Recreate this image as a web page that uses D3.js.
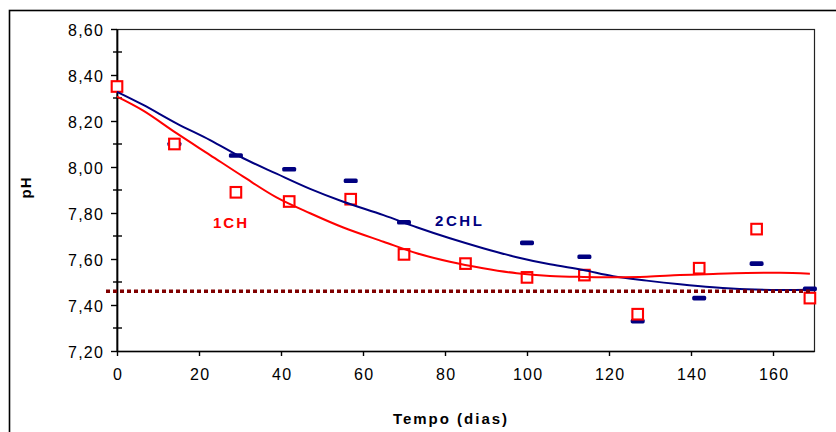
<!DOCTYPE html>
<html>
<head>
<meta charset="utf-8">
<script src="https://cdn.jsdelivr.net/npm/d3@7"></script>
<style>
  body { margin:0; background:#fff; }
  text { font-family: "Liberation Sans", Arial, sans-serif; }
</style>
</head>
<body>
<div id="chart-area"></div>
<script>
// measured points
const days1CH = [0, 14, 29, 42, 57, 70, 85, 100, 114, 127, 142, 156, 169];
const ph1CH   = [8.35, 8.10, 7.89, 7.85, 7.86, 7.62, 7.58, 7.52, 7.53, 7.36, 7.56, 7.73, 7.43];

const days2CHL = [14, 29, 42, 57, 70, 100, 114, 127, 142, 156, 169];
const ph2CHL   = [8.10, 8.05, 7.99, 7.94, 7.76, 7.67, 7.61, 7.33, 7.43, 7.58, 7.47];

// trend lines
const trendDays  = [0, 6.4, 14.5, 22.7, 30.8, 38.9, 47.1, 55.2, 65, 73.1, 81.2, 89.3, 97.5, 105.6, 113.7, 121, 129.2, 137.3, 145.4, 153.6, 161.7, 169];
const trend1CH   = [8.306, 8.245, 8.147, 8.052, 7.958, 7.868, 7.799, 7.737, 7.675, 7.625, 7.588, 7.560, 7.538, 7.526, 7.522, 7.521, 7.523, 7.530, 7.535, 7.539, 7.540, 7.536];
const trend2CHL  = [8.327, 8.270, 8.190, 8.117, 8.038, 7.971, 7.905, 7.849, 7.791, 7.738, 7.690, 7.647, 7.608, 7.577, 7.552, 7.525, 7.506, 7.490, 7.477, 7.468, 7.465, 7.466];

const limitPH = 7.46;

const yTicks = [7.2, 7.4, 7.6, 7.8, 8.0, 8.2, 8.4, 8.6];
const yMinorTicks = [7.3, 7.5, 7.7, 7.9, 8.1, 8.3, 8.5];
const xTicks = [0, 20, 40, 60, 80, 100, 120, 140, 160];

const W = 836, H = 432;
const plot = {left:117, right:814, top:29, bottom:351};

const red = "#ff0000", navy = "#000080";

var svg = d3.select("#chart-area").append("svg")
    .attr("width", W)
    .attr("height", H);

var xScale = d3.scaleLinear().domain([0, 170]).range([plot.left, plot.right]);
var yScale = d3.scaleLinear().domain([7.2, 8.6]).range([plot.bottom, plot.top]);

var fmt = d => d3.format(".2f")(d).replace(".", ",");

// outer chart border (runs off the bottom/right of the picture)
svg.append("rect")
   .attr("x", 9.5).attr("y", 10.5)
   .attr("width", 900).attr("height", 500)
   .attr("fill", "none").attr("stroke", "#000").attr("stroke-width", 1.6);

// plot area frame
svg.append("rect")
   .attr("x", plot.left).attr("y", plot.top + 0.5)
   .attr("width", plot.right - plot.left + 0.5).attr("height", plot.bottom - plot.top)
   .attr("fill", "none").attr("stroke", "#222").attr("stroke-width", 1.2);

// y axis
var yAxis = svg.append("g")
   .attr("transform", `translate(${plot.left},0)`)
   .call(d3.axisLeft(yScale).tickValues(yTicks).tickFormat(fmt).tickSize(6).tickSizeOuter(0).tickPadding(7));

yAxis.select(".domain").attr("stroke-width", 1.7);
yAxis.selectAll(".tick line").attr("stroke-width", 1.4);
yAxis.selectAll(".tick text")
     .attr("font-size", 16).attr("letter-spacing", 1.2)
     .attr("fill", "#000")
     .attr("dy", "0.43em");

yAxis.selectAll(".minor")
     .data(yMinorTicks)
     .enter()
     .append("line")
     .attr("class", "minor")
     .attr("x1", -4).attr("x2", 5)
     .attr("y1", d => yScale(d)).attr("y2", d => yScale(d))
     .attr("stroke", "#000").attr("stroke-width", 1.4);

// x axis
var xAxis = svg.append("g")
   .attr("transform", `translate(0,${plot.bottom})`)
   .call(d3.axisBottom(xScale).tickValues(xTicks).tickSize(5).tickSizeOuter(0).tickPadding(13));

xAxis.select(".domain").attr("stroke-width", 1.7);
xAxis.selectAll(".tick line").attr("stroke-width", 1.4);
xAxis.selectAll(".tick text")
     .attr("font-size", 16).attr("letter-spacing", 1.2)
     .attr("fill", "#000")
     .attr("dx", "0.04em");

// 2CHL markers (dashes)
svg.selectAll("rect.m2chl")
   .data(d3.zip(days2CHL, ph2CHL))
   .enter()
   .append("rect")
   .attr("class", "m2chl")
   .attr("x", d => xScale(d[0]) - 7)
   .attr("y", d => yScale(d[1]) - 2.3)
   .attr("width", 14).attr("height", 4.6)
   .attr("rx", 1.6)
   .attr("fill", navy);

// 1CH markers (open squares)
svg.selectAll("rect.m1ch")
   .data(d3.zip(days1CH, ph1CH))
   .enter()
   .append("rect")
   .attr("class", "m1ch")
   .attr("x", d => xScale(d[0]) - 5.3)
   .attr("y", d => yScale(d[1]) - 5.3)
   .attr("width", 10.6).attr("height", 10.6)
   .attr("fill", "#fff")
   .attr("stroke", red).attr("stroke-width", 2.1);

// trend lines
var line = d3.line()
    .x(d => xScale(d[0]))
    .y(d => yScale(d[1]))
    .curve(d3.curveCatmullRom);

svg.append("path")
   .datum(d3.zip(trendDays, trend2CHL))
   .attr("d", line)
   .attr("fill", "none").attr("stroke", navy).attr("stroke-width", 2);

svg.append("path")
   .datum(d3.zip(trendDays, trend1CH))
   .attr("d", line)
   .attr("fill", "none").attr("stroke", red).attr("stroke-width", 2);

// reference level (dotted)
svg.append("line")
   .attr("x1", plot.left - 11).attr("x2", xScale(169.5))
   .attr("y1", yScale(limitPH)).attr("y2", yScale(limitPH))
   .attr("stroke", "#800000").attr("stroke-width", 3.4)
   .attr("stroke-dasharray", "4,3");

// series labels
svg.append("text")
   .attr("x", 213).attr("y", 227.5)
   .attr("font-size", 15).attr("font-weight", "bold").attr("letter-spacing", 2)
   .attr("fill", red)
   .text("1CH");

svg.append("text")
   .attr("x", 435).attr("y", 225.5)
   .attr("font-size", 15).attr("font-weight", "bold").attr("letter-spacing", 2.6)
   .attr("fill", navy)
   .text("2CHL");

// axis titles
svg.append("text")
   .attr("x", 451).attr("y", 424)
   .attr("text-anchor", "middle")
   .attr("font-size", 15).attr("font-weight", "bold").attr("letter-spacing", 2)
   .attr("fill", "#000")
   .text("Tempo (dias)");

svg.append("text")
   .attr("transform", "translate(31,187.5) rotate(-90)")
   .attr("text-anchor", "middle")
   .attr("font-size", 15).attr("font-weight", "bold").attr("letter-spacing", 1)
   .attr("fill", "#000")
   .text("pH");
</script>
</body>
</html>
